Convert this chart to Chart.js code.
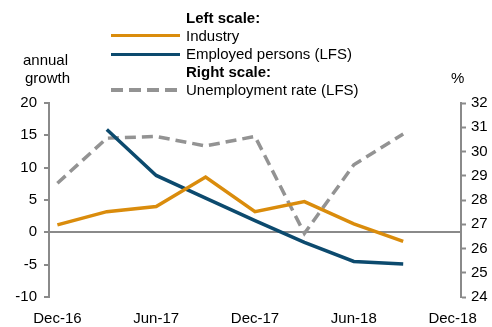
<!DOCTYPE html>
<html><head><meta charset="utf-8">
<script src="https://cdn.jsdelivr.net/npm/chart.js@4"></script>
<style>
html,body{margin:0;padding:0;background:#fff;}
#wrap{position:relative;width:492px;height:327px;font-family:"Liberation Sans",Arial,sans-serif;color:#000;}
canvas{position:absolute;left:0;top:0;}
.t{position:absolute;font-size:15px;line-height:18px;white-space:nowrap;}
.b{font-weight:bold;}
.ln{position:absolute;left:111px;width:69px;height:0;}
</style></head><body>
<div id="wrap">
<canvas id="c" width="492" height="327"></canvas>
<div class="ln" style="top:34px;border-top:3.5px solid #DA8C0C"></div>
<div class="ln" style="top:53px;border-top:3.5px solid #0C4A6E"></div>
<div class="ln" style="top:88px;height:4px;border:none;background:repeating-linear-gradient(90deg,#939393 0 12px,transparent 12px 18px)"></div>
<div class="t b" style="left:186px;top:9px">Left scale:</div>
<div class="t" style="left:186px;top:27px">Industry</div>
<div class="t" style="left:186px;top:45px">Employed persons (LFS)</div>
<div class="t b" style="left:186px;top:63px">Right scale:</div>
<div class="t" style="left:186px;top:81px">Unemployment rate (LFS)</div>
<div class="t" style="left:23px;top:51px">annual</div>
<div class="t" style="left:25px;top:69px">growth</div>
<div class="t" style="left:451px;top:69px">%</div>
</div>
<script>
const quarters = ["Dec-16","Mar-17","Jun-17","Sep-17","Dec-17","Mar-18","Jun-18","Sep-18","Dec-18"];
const tickLabels = ["Dec-16","Jun-17","Dec-17","Jun-18","Dec-18"];
const industry = [1.15, 3.2, 4.0, 8.55, 3.2, 4.75, 1.3, -1.4];
const employed = [null, 15.9, 8.8, 5.3, 1.8, -1.55, -4.5, -4.9];
const unemployment = [28.69, 30.55, 30.62, 30.23, 30.62, 26.62, 29.45, 30.72];
const leftTicks = [-10, -5, 0, 5, 10, 15, 20];
const rightTicks = [24, 25, 26, 27, 28, 29, 30, 31, 32];

const toXY = arr => arr.map((v,i)=>({x:i,y:v})).filter(p=>p.y!==null);
const gray = '#8a8a8a';
const font = {family:'"Liberation Sans", Arial, sans-serif', size:15};

new Chart(document.getElementById('c'), {
  type:'line',
  data:{datasets:[
    {label:'Industry', data:toXY(industry), borderColor:'#DA8C0C', borderWidth:3.5, pointRadius:0, yAxisID:'y', tension:0},
    {label:'Employed persons (LFS)', data:toXY(employed), borderColor:'#0C4A6E', borderWidth:3.5, pointRadius:0, yAxisID:'y', tension:0},
    {label:'Unemployment rate (LFS)', data:toXY(unemployment), borderColor:'#939393', borderWidth:3.5, borderDash:[11,6], pointRadius:0, yAxisID:'y2', tension:0}
  ]},
  options:{
    responsive:false, animation:false,
    layout:{padding:{top:103,left:0,right:0,bottom:0}},
    plugins:{legend:{display:false}, tooltip:{enabled:false}},
    scales:{
      x:{type:'linear', min:-0.17, max:8.17,
        afterBuildTicks:s=>{s.ticks=tickLabels.map((_,i)=>({value:i*2}));},
        afterFit:s=>{s.height=30;},
        ticks:{color:'#000', font:font, padding:5, maxRotation:0, autoSkip:false,
          callback:v=>tickLabels[v/2]},
        grid:{display:false}, border:{display:false}},
      y:{position:'left', min:-10, max:20,
        afterBuildTicks:s=>{s.ticks=leftTicks.map(v=>({value:v}));},
        afterFit:s=>{s.width=49;},
        ticks:{color:'#000', font:font, padding:7},
        grid:{drawOnChartArea:true, color:c=>c.tick && c.tick.value===0?gray:'rgba(0,0,0,0)', lineWidth:2, tickColor:gray, tickLength:5, tickWidth:2},
        border:{display:true, color:gray, width:2}},
      y2:{position:'right', min:24, max:32,
        afterBuildTicks:s=>{s.ticks=rightTicks.map(v=>({value:v}));},
        afterFit:s=>{s.width=31;},
        ticks:{color:'#000', font:font, padding:5},
        grid:{drawOnChartArea:false, tickColor:gray, tickLength:5, tickWidth:2},
        border:{display:true, color:gray, width:2}}
    }
  }
});
</script>
</body></html>
